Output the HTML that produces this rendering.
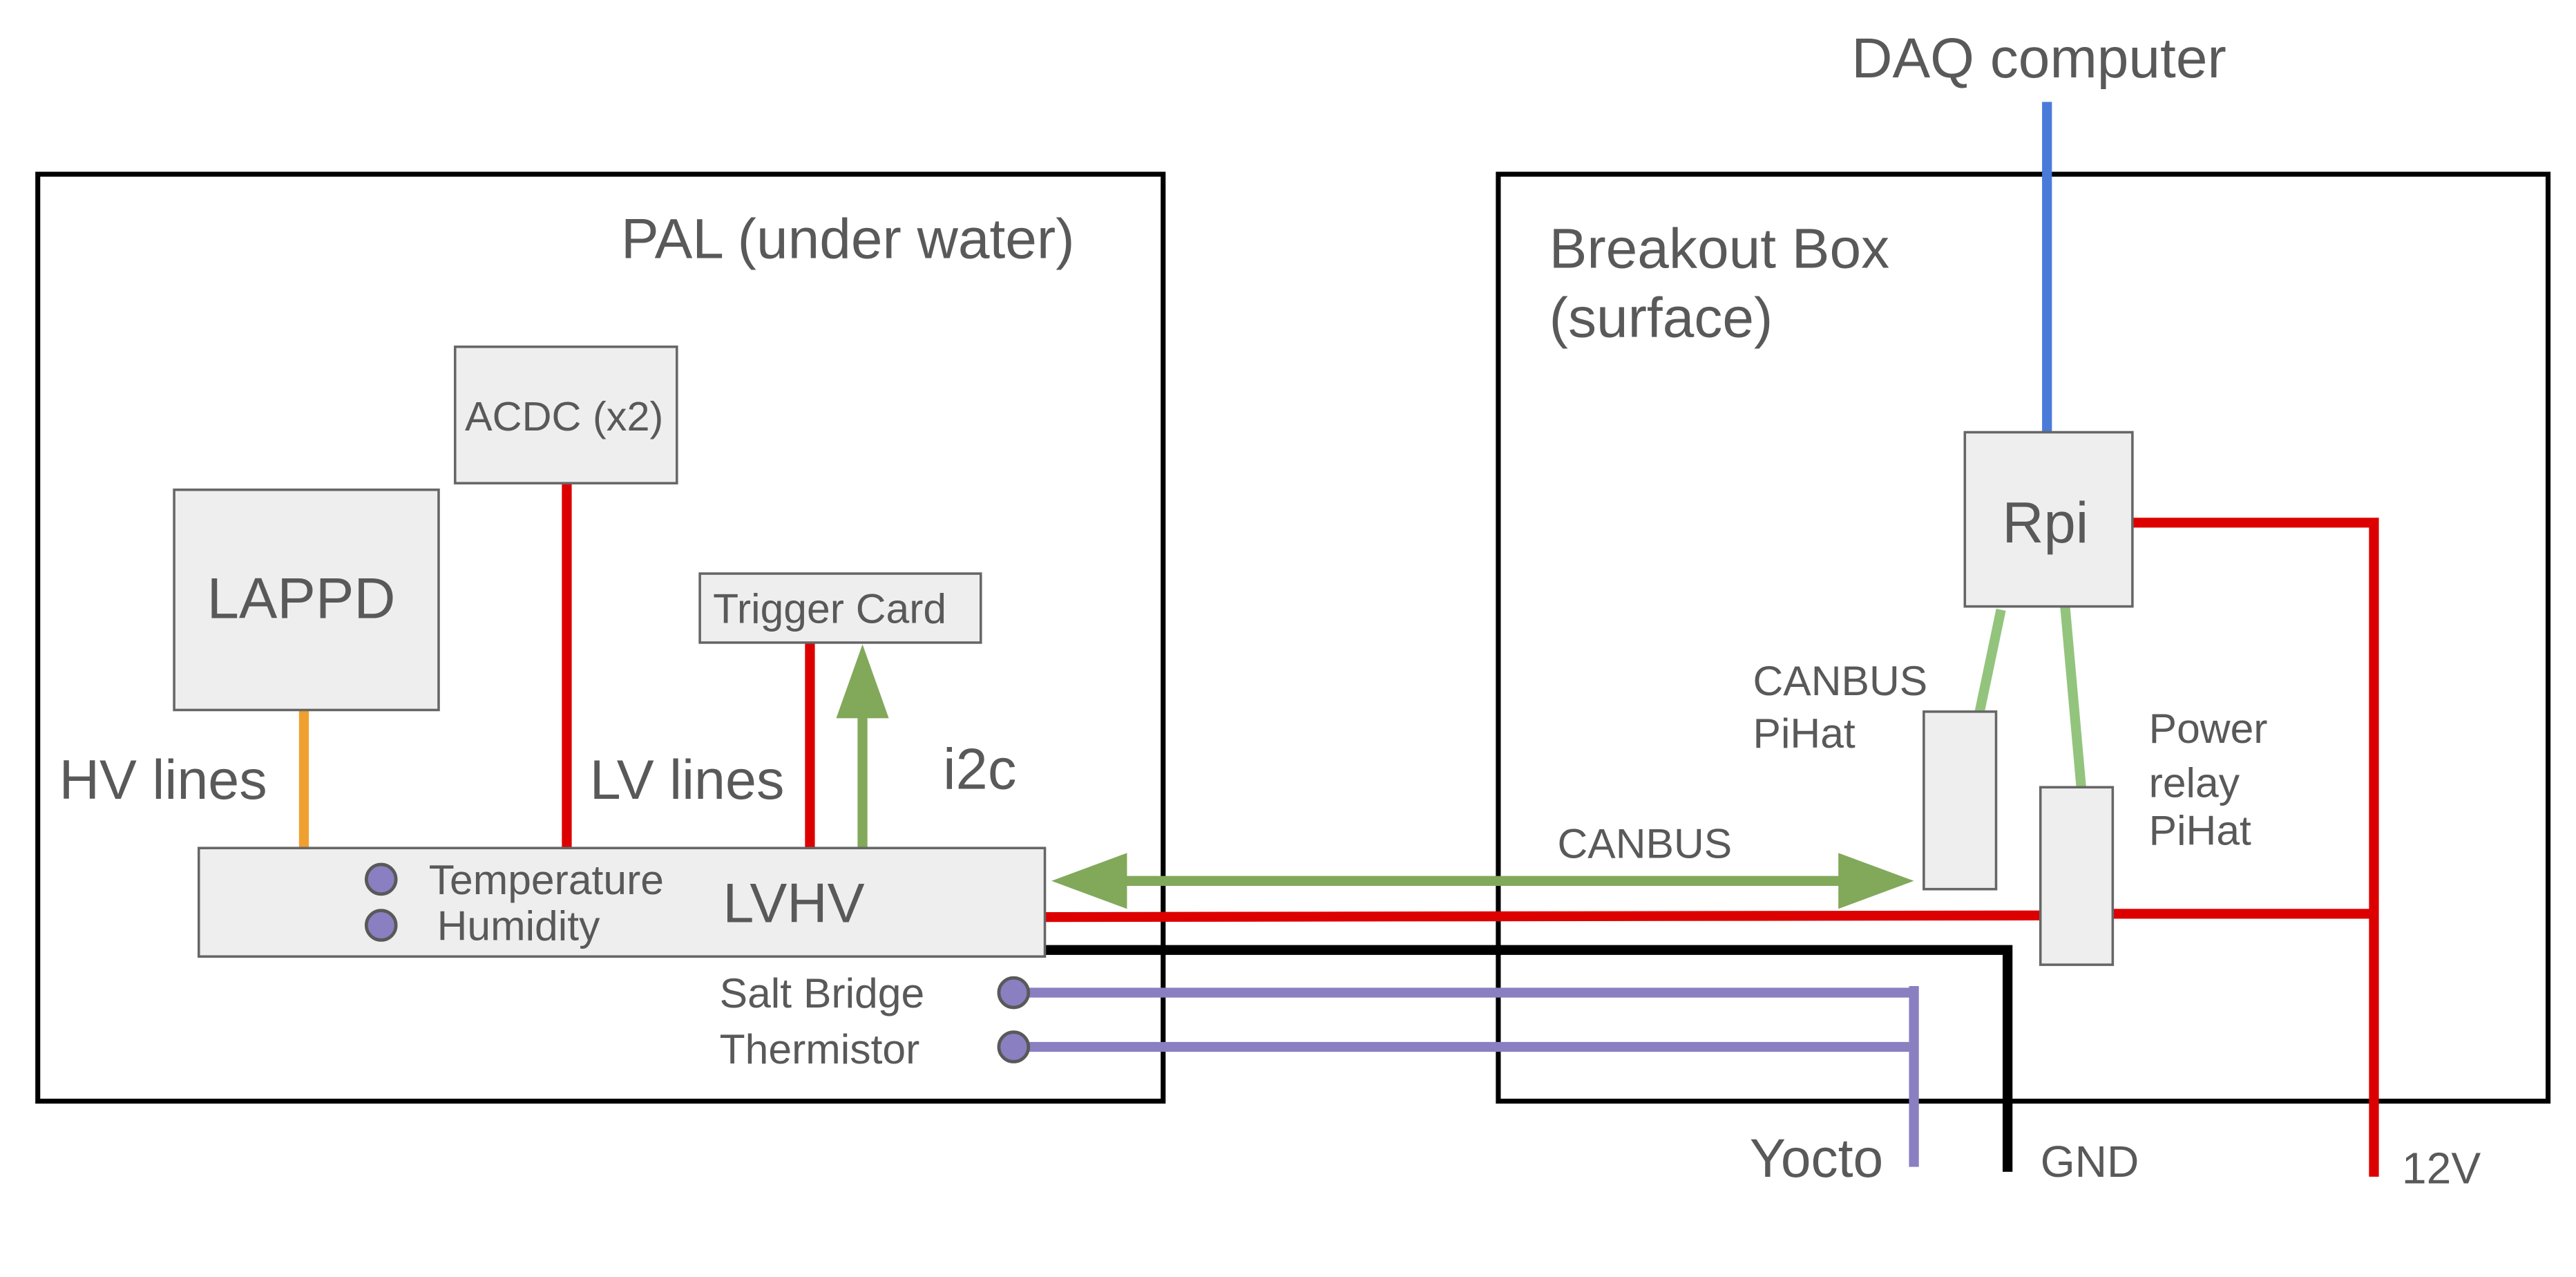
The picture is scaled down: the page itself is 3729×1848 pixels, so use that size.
<!DOCTYPE html>
<html><head><meta charset="utf-8"><style>
html,body{margin:0;padding:0;background:#fff;}
svg{display:block;}
text{font-family:"Liberation Sans",sans-serif;fill:#595959;}
</style></head><body>
<svg width="3729" height="1848" viewBox="0 0 1568 777" preserveAspectRatio="none" xmlns="http://www.w3.org/2000/svg">
<rect x="0" y="0" width="1568" height="777" fill="#fff"/>
<rect x="23" y="106" width="685" height="564" fill="none" stroke="#000" stroke-width="3"/>
<rect x="912" y="106" width="639" height="564" fill="none" stroke="#000" stroke-width="3"/>
<text x="1127" y="47" font-size="34.5">DAQ computer</text>
<text x="378" y="157" font-size="34.5">PAL (under water)</text>
<text x="943" y="163" font-size="34.5">Breakout Box</text>
<text x="943" y="205" font-size="34.5">(surface)</text>

<line x1="1246" y1="62" x2="1246" y2="263" stroke="#4a7bd9" stroke-width="6"/>
<polyline points="1298,318 1445,318 1445,716" fill="none" stroke="#dd0000" stroke-width="6"/>
<line x1="1286" y1="556" x2="1445" y2="556" stroke="#dd0000" stroke-width="6"/>
<line x1="1218" y1="371" x2="1205" y2="433" stroke="#93c47d" stroke-width="6"/>
<line x1="1257" y1="369" x2="1267" y2="481" stroke="#93c47d" stroke-width="6"/>
<line x1="636" y1="558" x2="1242" y2="557" stroke="#dd0000" stroke-width="6"/>
<polyline points="636,578 1222,578 1222,713" fill="none" stroke="#000" stroke-width="6"/>
<line x1="617" y1="604" x2="1165" y2="604" stroke="#8a7fc1" stroke-width="6"/>
<line x1="617" y1="637" x2="1165" y2="637" stroke="#8a7fc1" stroke-width="6"/>
<line x1="1165" y1="600" x2="1165" y2="710" stroke="#8a7fc1" stroke-width="6"/>
<circle cx="617" cy="604" r="9" fill="#8a7fc1" stroke="#595959" stroke-width="2"/>
<circle cx="617" cy="637" r="9" fill="#8a7fc1" stroke="#595959" stroke-width="2"/>

<line x1="680" y1="536" x2="1125" y2="536" stroke="#82a85a" stroke-width="6"/>
<polygon points="640,536 686,519 686,553" fill="#82a85a"/>
<polygon points="1165,536 1119,519 1119,553" fill="#82a85a"/>
<text x="948" y="522" font-size="25.5">CANBUS</text>

<rect x="1196" y="263" width="102" height="106" fill="#eeeeee" stroke="#666" stroke-width="1.5"/>
<text x="1245" y="330" font-size="35" text-anchor="middle">Rpi</text>
<rect x="1171" y="433" width="44" height="108" fill="#eeeeee" stroke="#666" stroke-width="1.5"/>
<rect x="1242" y="479" width="44" height="108" fill="#eeeeee" stroke="#666" stroke-width="1.5"/>
<text x="1067" y="423" font-size="25.5">CANBUS</text>
<text x="1067" y="455" font-size="25.5">PiHat</text>
<text x="1308" y="452" font-size="25.5">Power</text>
<text x="1308" y="485" font-size="25.5">relay</text>
<text x="1308" y="514" font-size="25.5">PiHat</text>

<text x="438" y="613" font-size="25.5">Salt Bridge</text>
<text x="438" y="647" font-size="25.5">Thermistor</text>
<text x="1065" y="716" font-size="33">Yocto</text>
<text x="1242" y="716" font-size="27">GND</text>
<text x="1462" y="720" font-size="27">12V</text>

<line x1="185" y1="432" x2="185" y2="516" stroke="#f0a030" stroke-width="6"/>
<line x1="345" y1="294" x2="345" y2="516" stroke="#dd0000" stroke-width="6"/>
<line x1="493" y1="391" x2="493" y2="516" stroke="#dd0000" stroke-width="6"/>
<line x1="525" y1="516" x2="525" y2="432" stroke="#82a85a" stroke-width="6"/>
<polygon points="525,392 509,437 541,437" fill="#82a85a"/>

<rect x="277" y="211" width="135" height="83" fill="#eeeeee" stroke="#666" stroke-width="1.5"/>
<text x="283" y="262" font-size="25">ACDC (x2)</text>
<rect x="106" y="298" width="161" height="134" fill="#eeeeee" stroke="#666" stroke-width="1.5"/>
<text x="126" y="376" font-size="35">LAPPD</text>
<rect x="426" y="349" width="171" height="42" fill="#eeeeee" stroke="#666" stroke-width="1.5"/>
<text x="434" y="379" font-size="25.5">Trigger Card</text>

<rect x="121" y="516" width="515" height="66" fill="#eeeeee" stroke="#666" stroke-width="1.5"/>
<text x="440" y="561" font-size="34">LVHV</text>
<circle cx="232" cy="535" r="9" fill="#8a7fc1" stroke="#595959" stroke-width="2"/>
<circle cx="232" cy="563" r="9" fill="#8a7fc1" stroke="#595959" stroke-width="2"/>
<text x="261" y="544" font-size="25.5">Temperature</text>
<text x="266" y="572" font-size="25.5">Humidity</text>

<text x="36" y="486" font-size="34">HV lines</text>
<text x="359" y="486" font-size="34">LV lines</text>
<text x="574" y="480" font-size="35">i2c</text>
</svg>
</body></html>
